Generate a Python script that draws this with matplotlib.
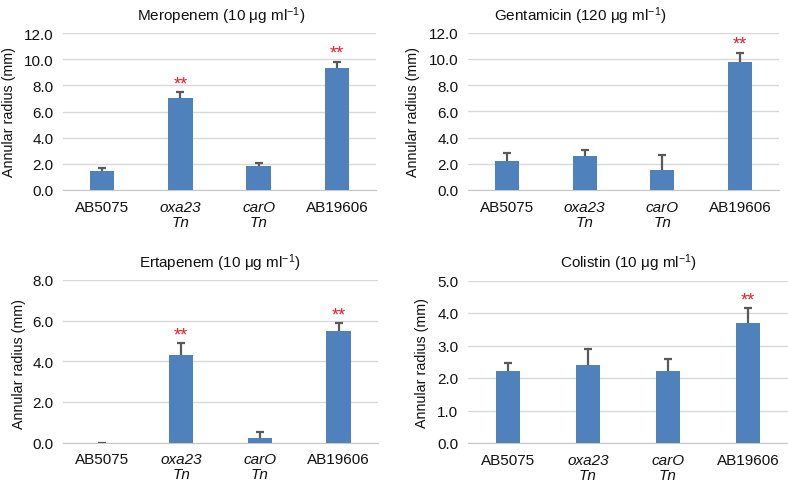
import numpy as np
import matplotlib
matplotlib.use("Agg")
import matplotlib.pyplot as plt

plt.rcParams['font.family'] = ['Liberation Sans', 'DejaVu Sans']
plt.rcParams['mathtext.fontset'] = 'custom'
plt.rcParams['mathtext.rm'] = 'Liberation Sans'
plt.rcParams['mathtext.it'] = 'Liberation Sans:italic'

# Daten
strains = ["AB5075", "oxa23\nTn", "carO\nTn", "AB19606"]
italic_labels = [False, True, True, False]

titles = [r"Meropenem (10 μg ml$^{-1}$)", r"Gentamicin (120 μg ml$^{-1}$)",
          r"Ertapenem (10 μg ml$^{-1}$)", r"Colistin (10 μg ml$^{-1}$)"]

meropenem = [1.45, 7.02, 1.80, 9.32]
meropenem_err = [0.21, 0.47, 0.28, 0.48]
gentamicin = [2.23, 2.60, 1.55, 9.76]
gentamicin_err = [0.56, 0.43, 1.10, 0.70]
ertapenem = [0.0, 4.33, 0.21, 5.50]
ertapenem_err = [0.0, 0.55, 0.29, 0.36]
colistin = [2.22, 2.41, 2.22, 3.68]
colistin_err = [0.23, 0.47, 0.35, 0.47]

# signifikante Unterschiede (**)
meropenem_sig = [False, True, False, True]
gentamicin_sig = [False, False, False, True]
ertapenem_sig = [False, True, False, True]
colistin_sig = [False, False, False, True]

y_max = [12.0, 12.0, 8.0, 5.0]
y_step = [2.0, 2.0, 2.0, 1.0]

# Achsenpositionen in Pixeln (links, rechts, oben, unten)
W, H = 788, 485
boxes = [(63, 376, 34, 191), (468, 779, 33.5, 191),
         (63, 378, 281, 443.5), (468, 788, 281.5, 444)]
title_pos = [(221, 21), (580, 21), (220, 268), (628, 268)]
ylabel_pos = [(9, 112), (413, 112), (19, 364), (422, 363)]

data = [(meropenem, meropenem_err, meropenem_sig),
        (gentamicin, gentamicin_err, gentamicin_sig),
        (ertapenem, ertapenem_err, ertapenem_sig),
        (colistin, colistin_err, colistin_sig)]

bar_color = "#4F81BD"
err_color = "#595959"
grid_color = "#D9D9D9"
cap_half = 0.05

fig = plt.figure(figsize=(W / 100, H / 100), dpi=100)

for i, (vals, errs, sig) in enumerate(data):
    l, r, t, b = boxes[i]
    ax = fig.add_axes([l / W, 1 - b / H, (r - l) / W, (b - t) / H])
    x = np.arange(len(strains))
    vals = np.array(vals)
    errs = np.array(errs)
    ax.bar(x, vals, width=0.31, color=bar_color, zorder=3)
    # nur obere Fehlerbalken
    ax.vlines(x, vals, vals + errs, color=err_color, linewidth=1.6, zorder=4)
    ax.hlines(vals + errs, x - cap_half, x + cap_half, color=err_color, linewidth=1.6, zorder=4)
    for xi, v, e, s in zip(x, vals, errs, sig):
        if s:
            ax.annotate("**", (xi, v + e), xytext=(0, 0), textcoords="offset points",
                        ha="center", va="bottom", color="#E8202A", fontsize=13)

    ax.set_xlim(-0.5, 3.5)
    ax.set_ylim(0, y_max[i])
    ticks = np.arange(0, y_max[i] + 0.01, y_step[i])
    ax.set_yticks(ticks)
    ax.set_yticklabels([f"{tk:.1f}" for tk in ticks], fontsize=11, color="#111111")
    ax.set_xticks(x)
    ax.set_xticklabels(strains, fontsize=11, color="#111111", linespacing=1.1)
    for lab, it in zip(ax.get_xticklabels(), italic_labels):
        if it:
            lab.set_fontstyle("italic")
    ax.tick_params(length=0, pad=7)
    ax.yaxis.grid(True, color=grid_color, linewidth=1, zorder=0)
    for sp in ["left", "right", "top"]:
        ax.spines[sp].set_visible(False)
    ax.spines["bottom"].set_color("#C8C8C8")

    fig.text(title_pos[i][0] / W, 1 - title_pos[i][1] / H, titles[i],
             ha="center", va="baseline", fontsize=11, color="#111111")
    fig.text(ylabel_pos[i][0] / W, 1 - ylabel_pos[i][1] / H, "Annular radius (mm)",
             ha="center", va="center", rotation=90, fontsize=10.3, color="#111111")

fig.savefig("out.png", dpi=100)
